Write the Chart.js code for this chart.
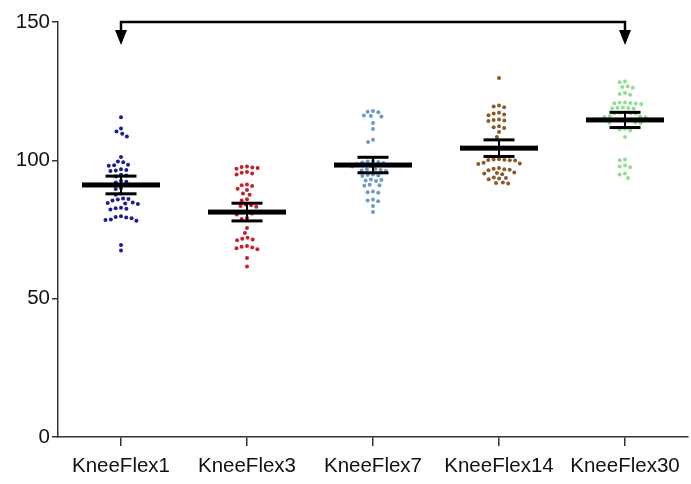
<!DOCTYPE html>
<html>
<head>
<meta charset="utf-8">
<script src="https://cdn.jsdelivr.net/npm/chart.js@4.4.1/dist/chart.umd.min.js"></script>
<style>
  html, body { margin: 0; padding: 0; background: #fff; }
  canvas { display: block; }
</style>
</head>
<body>
<canvas id="c" width="691" height="484"></canvas>
<script>
// Knee flexion (degrees) at each follow-up visit
const categories = ['KneeFlex1', 'KneeFlex3', 'KneeFlex7', 'KneeFlex14', 'KneeFlex30'];
const yTicks = [0, 50, 100, 150];

const kneeFlex1 = [115.6, 111.5, 110.4, 109.6, 108.6, 101.2, 99.6, 99.3, 98.4, 98.2, 98.0,
  96.8, 96.5, 96.3, 96.1, 94.8, 94.5, 94.2, 92.6, 92.3, 92.0, 90.0, 89.6, 88.0, 87.6,
  86.2, 86.0, 85.8, 85.5, 84.8, 84.6, 84.4, 84.2, 82.9, 82.7, 82.5, 82.2, 79.8, 79.5,
  79.3, 79.1, 78.6, 78.4, 78.2, 69.4, 67.4];
const kneeFlex3 = [97.8, 97.6, 97.4, 97.2, 97.0, 95.8, 95.5, 95.2, 94.9, 91.3, 91.0, 90.7,
  89.7, 89.3, 88.0, 87.6, 85.9, 85.5, 84.0, 83.8, 83.5, 83.2, 81.5, 81.2, 80.8, 80.4,
  79.2, 78.8, 75.5, 73.7, 72.0, 71.7, 71.4, 71.1, 69.0, 68.8, 68.5, 68.2, 67.9, 64.7, 61.6];
const kneeFlex7 = [117.8, 117.6, 117.4, 116.2, 116.0, 115.8, 113.5, 111.3, 107.4, 106.6,
  99.8, 99.6, 99.4, 99.2, 99.0, 98.6, 98.4, 98.2, 98.0, 97.8, 96.9, 96.7, 96.5, 96.3,
  96.1, 94.9, 94.7, 94.5, 94.3, 93.1, 92.9, 92.7, 92.5, 91.2, 91.0, 90.8, 88.7, 88.5,
  88.3, 85.8, 85.5, 85.2, 83.5, 81.3];
const kneeFlex14 = [129.8, 119.8, 119.5, 119.2, 117.2, 116.9, 116.6, 116.3, 114.8, 114.6,
  114.4, 114.2, 112.3, 112.0, 111.7, 110.2, 108.4, 104.4, 100.4, 100.3, 100.2, 100.1,
  100.0, 99.9, 99.1, 98.9, 98.7, 97.2, 97.0, 96.8, 96.6, 96.4, 95.6, 95.4, 95.2, 95.0,
  93.8, 93.6, 93.4, 93.2, 92.0, 91.8, 91.6];
const kneeFlex30 = [128.5, 128.2, 126.8, 126.5, 126.2, 124.3, 124.0, 123.7, 120.9, 120.8,
  120.7, 120.6, 120.5, 120.4, 119.1, 119.0, 118.9, 118.8, 118.7, 117.3, 117.2, 117.1,
  117.0, 116.9, 115.9, 115.8, 115.7, 115.6, 114.8, 114.7, 114.6, 114.5, 113.7, 113.6,
  113.5, 111.4, 111.1, 110.8, 108.4, 100.3, 100.0, 98.1, 97.8, 97.5, 95.2, 94.9, 93.6];

const groupMeans = [91.1, 81.3, 98.3, 104.4, 114.6];
const groupSems = [3.2, 3.2, 2.8, 3.0, 2.75];

const groups = [kneeFlex1, kneeFlex3, kneeFlex7, kneeFlex14, kneeFlex30];
const colors = ['#1e1f8e', '#c3232b', '#6c9bc9', '#8b5a2b', '#92de92'];

const FONT = { family: "'Liberation Sans', Arial, sans-serif", size: 20.5 };

// Mean line with SEM whiskers on top of each dot column
const meanSemPlugin = {
  id: 'meanSem',
  afterDatasetsDraw(chart) {
    const { ctx, scales: { x, y } } = chart;
    ctx.save();
    ctx.fillStyle = '#000';
    groupMeans.forEach((m, i) => {
      const cx = x.getPixelForValue(i);
      const ym = y.getPixelForValue(m);
      const yt = y.getPixelForValue(m + groupSems[i]);
      const yb = y.getPixelForValue(m - groupSems[i]);
      ctx.fillRect(cx - 1, yt, 2, yb - yt);
      ctx.fillRect(cx - 15.5, yt - 1.5, 31, 3);
      ctx.fillRect(cx - 15.5, yb - 1.5, 31, 3);
      ctx.fillRect(cx - 39, ym - 2.5, 78, 5);
    });
    ctx.restore();
  }
};

// Comparison bracket between the first and last visit
const bracketPlugin = {
  id: 'bracket',
  afterDraw(chart) {
    const { ctx, scales: { x, y } } = chart;
    const y0 = y.getPixelForValue(150);
    const x1 = x.getPixelForValue(0);
    const x2 = x.getPixelForValue(categories.length - 1);
    ctx.save();
    ctx.strokeStyle = '#000';
    ctx.fillStyle = '#000';
    ctx.lineWidth = 2.5;
    ctx.beginPath();
    ctx.moveTo(x1, y0 + 10);
    ctx.lineTo(x1, y0);
    ctx.lineTo(x2, y0);
    ctx.lineTo(x2, y0 + 10);
    ctx.stroke();
    [x1, x2].forEach(cx => {
      ctx.beginPath();
      ctx.moveTo(cx - 6, y0 + 8);
      ctx.lineTo(cx + 6, y0 + 8);
      ctx.lineTo(cx, y0 + 23);
      ctx.closePath();
      ctx.fill();
    });
    ctx.restore();
  }
};

const chart = new Chart(document.getElementById('c'), {
  type: 'scatter',
  data: {
    datasets: groups.map((vals, i) => ({
      label: categories[i],
      data: vals.map(v => ({ x: i, y: v })),
      backgroundColor: colors[i],
      borderWidth: 0,
      pointRadius: 2.0,
      pointHoverRadius: 2.0
    }))
  },
  options: {
    responsive: false,
    animation: false,
    layout: { padding: { top: 22, right: 3, left: 0, bottom: 0 } },
    plugins: { legend: { display: false }, tooltip: { enabled: false } },
    scales: {
      x: {
        type: 'linear',
        min: -0.5,
        max: categories.length - 0.5,
        afterBuildTicks: s => { s.ticks = categories.map((c, i) => ({ value: i })); },
        afterFit: s => { s.height = 47; },
        ticks: {
          callback: v => categories[v],
          font: FONT, color: '#111', padding: 8,
          autoSkip: false, maxRotation: 0
        },
        grid: { drawOnChartArea: false, drawTicks: true, tickLength: 9, color: '#333', lineWidth: 1.5 },
        border: { display: true, color: '#333', width: 1.5 }
      },
      y: {
        min: 0,
        max: 150,
        afterBuildTicks: s => { s.ticks = yTicks.map(v => ({ value: v })); },
        afterFit: s => { s.width = 58; },
        ticks: { font: FONT, color: '#111', padding: 2 },
        grid: { drawOnChartArea: false, drawTicks: true, tickLength: 6, color: '#333', lineWidth: 1.5 },
        border: { display: true, color: '#333', width: 1.5 }
      }
    }
  },
  plugins: [meanSemPlugin, bracketPlugin]
});

// Spread each column into a beeswarm so dots do not overlap
function swarmOffsets(vals, yScale, diameter) {
  const order = vals.map((v, k) => k).sort((a, b) => vals[b] - vals[a]);
  const placed = [];
  const offsets = new Array(vals.length).fill(0);
  order.forEach(k => {
    const py = yScale.getPixelForValue(vals[k]);
    const spans = [];
    placed.forEach(p => {
      const dy = Math.abs(p.y - py);
      if (dy < diameter) {
        const w = Math.sqrt(diameter * diameter - dy * dy);
        spans.push([p.x - w, p.x + w]);
      }
    });
    const candidates = [0];
    spans.forEach(s => candidates.push(s[0], s[1]));
    candidates.sort((a, b) => Math.abs(a) - Math.abs(b) || a - b);
    const px = candidates.find(c => spans.every(s => c <= s[0] + 1e-6 || c >= s[1] - 1e-6));
    placed.push({ x: px, y: py });
    offsets[k] = px;
  });
  return offsets;
}

const xs = chart.scales.x, ys = chart.scales.y;
const pxPerUnit = xs.getPixelForValue(1) - xs.getPixelForValue(0);
groups.forEach((vals, i) => {
  const off = swarmOffsets(vals, ys, 5.4);
  chart.data.datasets[i].data = vals.map((v, k) => ({ x: i + off[k] / pxPerUnit, y: v }));
});
chart.update('none');
</script>
</body>
</html>
